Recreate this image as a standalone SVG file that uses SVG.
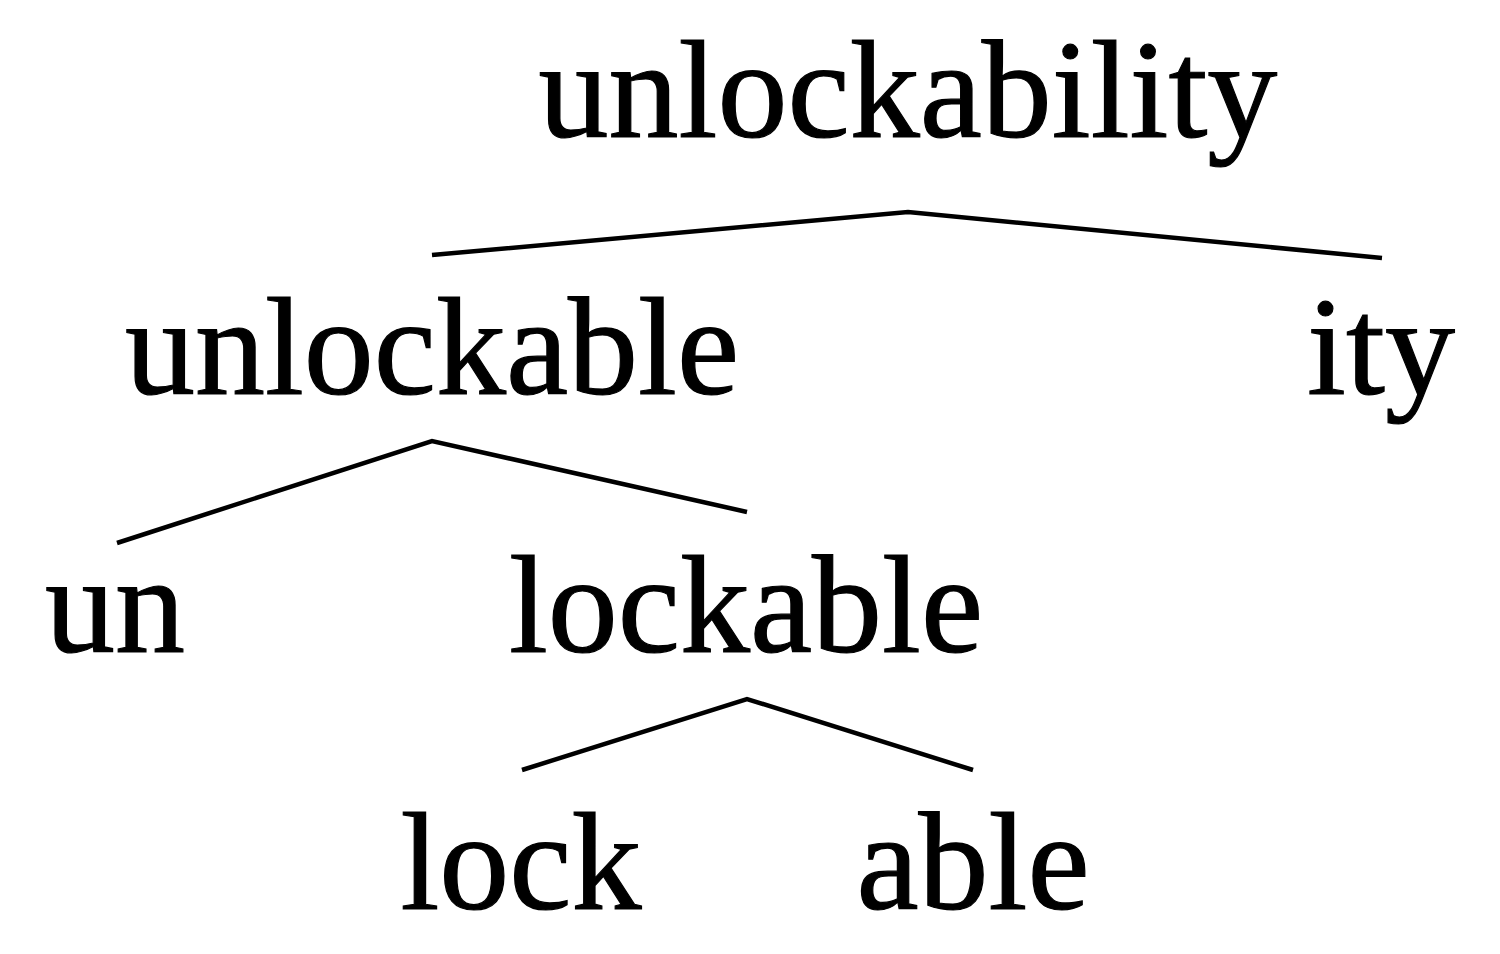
<svg xmlns="http://www.w3.org/2000/svg" width="1500" height="954" viewBox="0 0 1500 954">
<style>
.t{font-family:"Liberation Serif","DejaVu Serif",serif;font-size:140px;fill:#000;text-anchor:middle;stroke:#000;stroke-width:1.2}
.c{fill:none;stroke:#000;stroke-width:4.5;stroke-linejoin:miter}
</style>
<rect width="1500" height="954" fill="#fff"/>
<g id="connectors">
<polyline class="c" points="432,255 908,212 1382,258"/>
<polyline class="c" points="117,543 432,441 747,512"/>
<polyline class="c" points="522,770 747,699 973,770"/>
</g>
<g id="n-unlockability"><text class="t" x="908" y="137">unlockability</text></g>
<g id="n-unlockable"><text class="t" x="432" y="394">unlockable</text></g>
<g id="n-ity"><text class="t" x="1381" y="394">ity</text></g>
<g id="n-un"><text class="t" x="115" y="652">un</text></g>
<g id="n-lockable"><text class="t" x="746" y="652">lockable</text></g>
<g id="n-lock"><text class="t" x="521" y="909">lock</text></g>
<g id="n-able"><text class="t" x="973" y="909">able</text></g>
</svg>
